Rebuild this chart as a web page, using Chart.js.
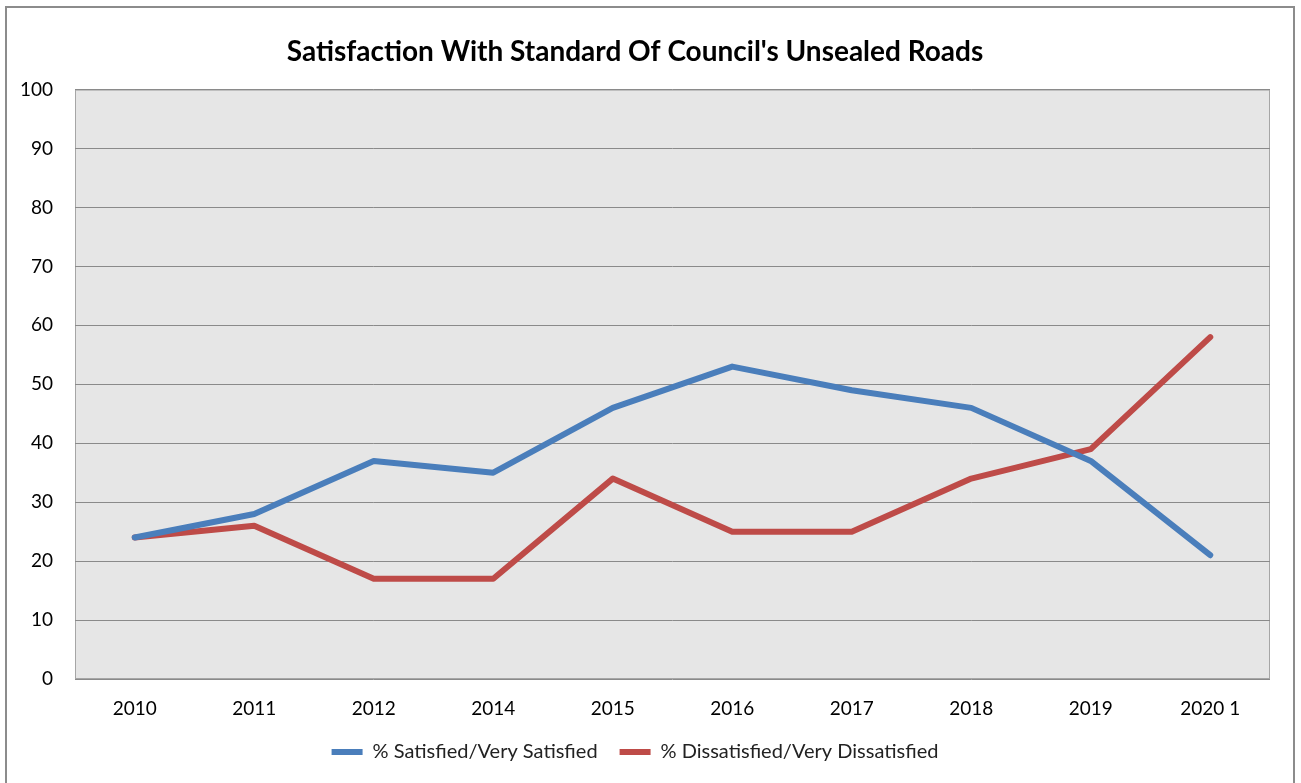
<!DOCTYPE html>
<html>
<head>
<meta charset="utf-8">
<script src="https://cdn.jsdelivr.net/npm/chart.js@4"></script>
<style>
  body { margin: 0; background: #fff; }
  #frame { position: absolute; left: 5px; top: 6px; width: 1286px; height: 800px; border: 2px solid #8c8c8c; }
  #wrap { position: absolute; left: 0; top: 0; width: 1301px; height: 783px; }
</style>
</head>
<body>
<div id="frame"></div>
<div id="wrap"><canvas id="myChart" width="1301" height="783"></canvas></div>
<script>
const years = ["2010", "2011", "2012", "2014", "2015", "2016", "2017", "2018", "2019", "2020 1"];
const satisfied = [24, 28, 37, 35, 46, 53, 49, 46, 37, 21];
const dissatisfied = [24, 26, 17, 17, 34, 25, 25, 34, 39, 58];

// grey plot background + thin border like excel
const plotBg = {
  id: "plotBg",
  beforeDraw(chart) {
    const { ctx, chartArea: a } = chart;
    ctx.save();
    ctx.fillStyle = "#e6e6e6";
    ctx.fillRect(a.left, a.top, a.right - a.left, a.bottom - a.top);
    ctx.strokeStyle = "#a6a6a6";
    ctx.lineWidth = 1;
    ctx.strokeRect(a.left + 0.5, a.top + 0.5, a.right - a.left - 1, a.bottom - a.top - 1);
    ctx.restore();
  },
};

let ctx = document.getElementById("myChart");
let myChart = new Chart(ctx, {
  type: "line",
  data: {
    labels: years,
    datasets: [
      {
        label: "% Satisfied/Very Satisfied",
        data: satisfied,
        borderColor: "#4a7ebb",
        backgroundColor: "#4a7ebb",
        borderWidth: 6,
        pointRadius: 0,
        pointStyle: "line",
        borderCapStyle: "round",
        borderJoinStyle: "round",
        tension: 0,
      },
      {
        label: "% Dissatisfied/Very Dissatisfied",
        data: dissatisfied,
        borderColor: "#be4b48",
        backgroundColor: "#be4b48",
        borderWidth: 6,
        pointRadius: 0,
        pointStyle: "line",
        borderCapStyle: "round",
        borderJoinStyle: "round",
        tension: 0,
      },
    ],
  },
  options: {
    responsive: false,
    animation: false,
    layout: { padding: { left: 0, right: 31, top: 0, bottom: 11 } },
    plugins: {
      title: {
        display: true,
        text: "Satisfaction With Standard Of Council's Unsealed Roads",
        color: "#000",
        font: { family: "Lato", size: 28, weight: "bold" },
        padding: { top: 35, bottom: 21 },
      },
      legend: {
        position: "bottom",
        labels: {
          color: "#222",
          font: { family: "Lato", size: 20 },
          usePointStyle: true,
          pointStyleWidth: 31,
          padding: 22,
        },
      },
      tooltip: { enabled: false },
    },
    scales: {
      x: {
        offset: true,
        grid: { display: false, drawTicks: false },
        border: { display: false },
        ticks: { color: "#000", font: { family: "Lato", size: 19 }, padding: 18, maxRotation: 0, autoSkip: false },
        afterFit(scale) { scale.height = 41; },
      },
      y: {
        min: 0,
        max: 100,
        grid: { color: "#8a8a8a", drawTicks: false },
        border: { display: false },
        ticks: { stepSize: 10, color: "#000", font: { family: "Lato", size: 19 }, padding: 22 },
        afterFit(scale) { scale.width = 75; },
      },
    },
  },
  plugins: [plotBg],
});
</script>
</body>
</html>
